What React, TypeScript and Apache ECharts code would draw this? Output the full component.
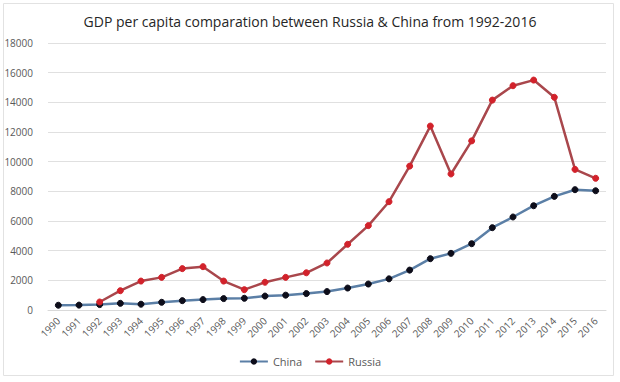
import React, { useEffect, useRef } from "react";
import * as echarts from "echarts";

const years = ["1990","1991","1992","1993","1994","1995","1996","1997","1998","1999","2000","2001","2002","2003","2004","2005","2006","2007","2008","2009","2010","2011","2012","2013","2014","2015","2016"];
const china = [320, 330, 366, 450, 390, 520, 630, 700, 770, 790, 940, 1000, 1110, 1240, 1480, 1750, 2100, 2690, 3460, 3820, 4470, 5550, 6270, 7030, 7660, 8110, 8040];
const russia: (number | null)[] = [null, null, 540, 1300, 1950, 2200, 2790, 2920, 1950, 1370, 1870, 2200, 2510, 3170, 4430, 5690, 7300, 9700, 12400, 9170, 11400, 14150, 15120, 15500, 14340, 9480, 8880];
const yTicks = { min: 0, max: 18000, interval: 2000 };

export default function App() {
  const ref = useRef<HTMLDivElement>(null);
  useEffect(() => {
    const chart = echarts.init(ref.current!, null, { renderer: "svg" });
    const font = "'Open Sans', 'Liberation Sans', sans-serif";
    chart.setOption({
      animation: false,
      backgroundColor: "#ffffff",
      textStyle: { fontFamily: font },
      title: {
        text: "GDP per capita comparation between Russia & China from 1992-2016",
        left: "center",
        top: 9,
        textStyle: { fontSize: 14, fontWeight: "normal", color: "#262626", fontFamily: font },
      },
      graphic: [
        {
          type: "rect",
          shape: { x: 3.5, y: 3.5, width: 610, height: 372 },
          style: { fill: "none", stroke: "#e2e2e2", lineWidth: 1 },
          silent: true,
        },
      ],
      legend: {
        bottom: 10,
        left: "center",
        itemWidth: 28,
        itemHeight: 8,
        itemGap: 12,
        textStyle: { fontSize: 11, color: "#595959", fontFamily: font },
        data: ["China", "Russia"],
      },
      grid: { left: 48, right: 14, top: 43, bottom: 72, containLabel: false },
      xAxis: {
        type: "category",
        data: years,
        boundaryGap: true,
        axisLine: { show: true, lineStyle: { color: "#d9d9d9" } },
        axisTick: { show: false },
        axisLabel: { rotate: 45, fontSize: 10, color: "#595959", margin: 9, interval: 0, fontFamily: font },
      },
      yAxis: {
        type: "value",
        min: yTicks.min,
        max: yTicks.max,
        interval: yTicks.interval,
        axisLine: { show: false },
        axisTick: { show: false },
        axisLabel: {
          fontSize: 10,
          color: "#595959",
          margin: 15,
          fontFamily: font,
          formatter: (v: number) => String(v),
        },
        splitLine: { lineStyle: { color: "#e0e0e0", width: 1 } },
      },
      series: [
        {
          name: "China",
          type: "line",
          data: china,
          symbol: "circle",
          symbolSize: 6,
          lineStyle: { color: "#5b7fa6", width: 2.5 },
          itemStyle: { color: "#0d0d1a", borderColor: "#0d0d1a" },
        },
        {
          name: "Russia",
          type: "line",
          data: russia,
          symbol: "circle",
          symbolSize: 6,
          lineStyle: { color: "#a9474c", width: 2.5 },
          itemStyle: { color: "#d2222b", borderColor: "#d2222b" },
        },
      ],
    });
    return () => chart.dispose();
  }, []);
  return (
    <div
      ref={ref}
      style={{ position: "absolute", left: 0, top: 0, width: 620, height: 382 }}
    />
  );
}
